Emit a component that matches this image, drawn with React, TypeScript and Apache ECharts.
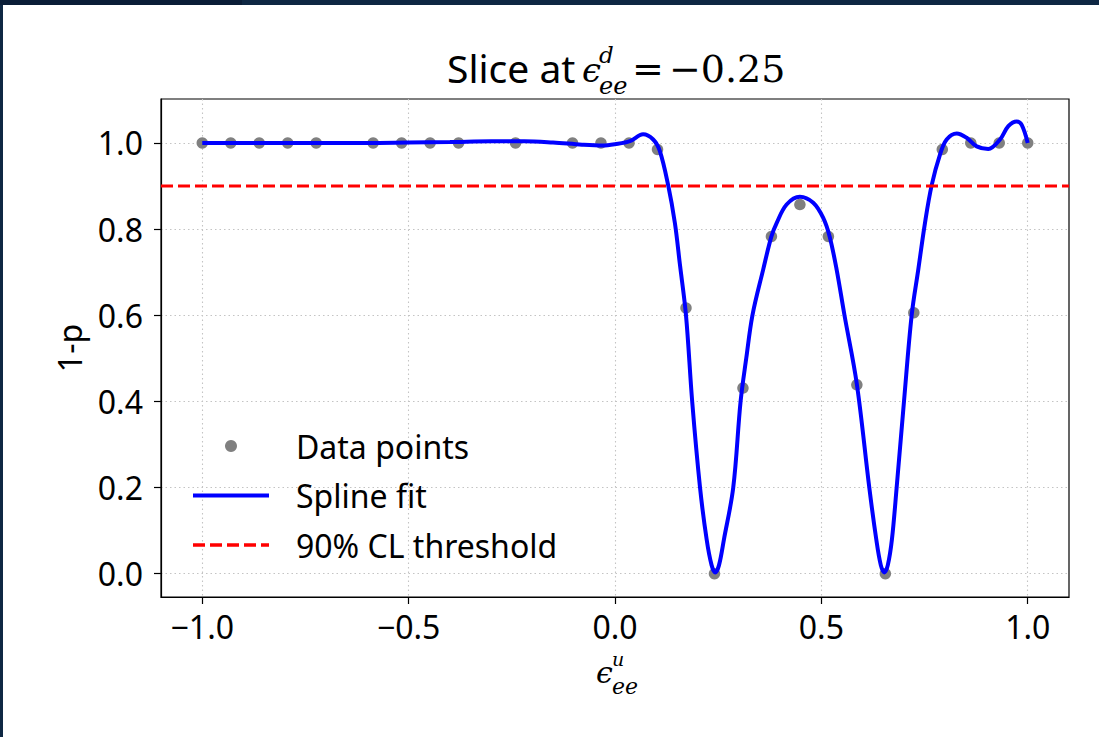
import React, { useEffect, useRef } from "react";
import * as echarts from "echarts";

// ---- data ----
const X_TICKS = [-1.0, -0.5, 0.0, 0.5, 1.0];
const Y_TICKS = [0.0, 0.2, 0.4, 0.6, 0.8, 1.0];
const X_RANGE = [-1.1, 1.1];
const Y_RANGE = [-0.054, 1.102];
const THRESHOLD = 0.9;

const POINT_X = [
  -1.0, -0.931, -0.862, -0.793, -0.724, -0.586, -0.517, -0.448, -0.379, -0.241,
  -0.103, -0.034, 0.034, 0.103, 0.172, 0.241, 0.31, 0.379, 0.448, 0.517, 0.586,
  0.655, 0.724, 0.793, 0.862, 0.931, 1.0,
];
const POINT_Y = [
  1.0, 1.0, 1.0, 1.0, 1.0, 1.0, 1.0, 1.0, 1.0, 1.0,
  1.0, 1.0, 1.0, 0.985, 0.617, 0.0, 0.431, 0.783, 0.857, 0.783, 0.4385,
  0.0, 0.606, 0.985, 1.0, 1.0, 1.0,
];

const SPLINE_X = [
  -1.0, -0.9, -0.8, -0.7, -0.6, -0.5, -0.4, -0.3, -0.22, -0.15, -0.08, -0.03, 0.0,
  0.036, 0.068, 0.0925, 0.1087, 0.1288, 0.1451, 0.157, 0.172, 0.187, 0.206, 0.222,
  0.234, 0.243, 0.252, 0.264, 0.2865, 0.3043, 0.318, 0.333, 0.359, 0.379, 0.3916,
  0.4158, 0.448, 0.4803, 0.5045, 0.52, 0.537, 0.556, 0.586, 0.6161, 0.633, 0.644,
  0.6525, 0.661, 0.671, 0.6824, 0.7002, 0.7188, 0.7348, 0.751, 0.7673, 0.7874,
  0.8036, 0.828, 0.852, 0.8763, 0.9045, 0.9329, 0.953, 0.9733, 0.9854, 1.0,
];
const SPLINE_Y = [
  1.0, 1.0, 1.0, 1.0, 1.0, 1.001, 1.002, 1.004, 1.004, 1.001, 0.996, 0.994, 0.997,
  1.004, 1.02, 1.008, 0.981, 0.902, 0.814, 0.72, 0.6, 0.4, 0.2, 0.08,
  0.02, 0.003, 0.02, 0.08, 0.2, 0.4, 0.5, 0.6, 0.706, 0.783, 0.814,
  0.857, 0.875, 0.861, 0.826, 0.783, 0.706, 0.6, 0.44, 0.2, 0.08, 0.02,
  0.003, 0.02, 0.08, 0.2, 0.4, 0.6, 0.706, 0.814, 0.902, 0.973,
  1.008, 1.022, 1.012, 0.992, 0.986, 1.008, 1.039, 1.05, 1.042, 1.0,
];

const SANS = "'Noto Sans', 'DejaVu Sans', sans-serif";
const SERIF = "'DejaVu Serif', 'Liberation Serif', serif";
const fmt = (v: number) => v.toFixed(1).replace("-", "\u2212");

export default function App() {
  const ref = useRef<HTMLDivElement>(null);

  useEffect(() => {
    if (!ref.current) return;
    const chart = echarts.init(ref.current, undefined, { renderer: "svg" });

    const gridStyle = { color: "#c4c4c4", width: 1.1, type: [1.5, 3] as any };
    const tickStyle = { color: "#000", width: 1.2 };
    const t = (text: string, x: number, y: number, font: string) => ({
      type: "text",
      x,
      y,
      style: { text, font, fill: "#000", verticalAlign: "middle" },
    });

    chart.setOption({
      animation: false,
      backgroundColor: "transparent",
      grid: {
        left: 161,
        top: 99,
        width: 908,
        height: 498,
        show: true,
        borderColor: "#000",
        borderWidth: 1.2,
        backgroundColor: "#fff",
        containLabel: false,
      },
      xAxis: {
        type: "value",
        min: X_RANGE[0],
        max: X_RANGE[1],
        axisLine: { show: true, onZero: false, lineStyle: tickStyle },
        axisTick: { show: true, length: 7, lineStyle: tickStyle, customValues: X_TICKS },
        axisLabel: {
          customValues: X_TICKS,
          formatter: fmt,
          margin: 13,
          fontSize: 32,
          fontFamily: SANS,
          color: "#000",
        },
        splitLine: { show: true, lineStyle: gridStyle },
      },
      yAxis: {
        type: "value",
        min: Y_RANGE[0],
        max: Y_RANGE[1],
        name: "1-p",
        nameLocation: "middle",
        nameGap: 76,
        nameTextStyle: { fontSize: 32, fontFamily: SANS, color: "#000" },
        axisLine: { show: true, onZero: false, lineStyle: tickStyle },
        axisTick: { show: true, length: 7, lineStyle: tickStyle, customValues: Y_TICKS },
        axisLabel: {
          customValues: Y_TICKS,
          formatter: fmt,
          margin: 18,
          fontSize: 32,
          fontFamily: SANS,
          color: "#000",
        },
        splitLine: { show: true, lineStyle: gridStyle },
      },
      legend: {
        orient: "vertical",
        left: 191,
        top: 430,
        padding: 0,
        itemWidth: 76,
        itemHeight: 12,
        itemGap: 17.5,
        textStyle: {
          fontSize: 32,
          fontFamily: SANS,
          color: "#000",
          padding: [0, 0, 0, 22],
        },
        data: [
          { name: "Data points", icon: "circle", itemStyle: { color: "#808080", opacity: 1 } },
          {
            name: "Spline fit",
            itemStyle: { opacity: 0 },
            lineStyle: { width: 4, color: "#0000ff" },
          },
          {
            name: "90% CL threshold",
            itemStyle: { opacity: 0 },
            lineStyle: { width: 3.3, color: "#ff0000", type: [12, 5] },
          },
        ],
      },
      series: [
        {
          name: "Data points",
          type: "scatter",
          data: POINT_X.map((x, i) => [x, POINT_Y[i]]),
          symbolSize: 11.5,
          itemStyle: { color: "#808080", opacity: 1 },
          z: 2,
        },
        {
          name: "Spline fit",
          type: "line",
          data: SPLINE_X.map((x, i) => [x, SPLINE_Y[i]]),
          smooth: 0.35,
          symbol: "none",
          lineStyle: { color: "#0000ff", width: 4 },
          itemStyle: { color: "#0000ff" },
          z: 3,
        },
        {
          name: "90% CL threshold",
          type: "line",
          data: [
            [X_RANGE[0], THRESHOLD],
            [X_RANGE[1], THRESHOLD],
          ],
          symbol: "none",
          lineStyle: { color: "#ff0000", width: 3, type: [12, 5] },
          itemStyle: { color: "#ff0000" },
          z: 4,
        },
      ],
      graphic: [
        // title: Slice at ϵ^d_ee = −0.25
        t("Slice at", 447, 67, `39px ${SANS}`),
        t("\u03F5", 582, 70, `italic 34px ${SERIF}`),
        t("d", 599, 55, `italic 23px ${SERIF}`),
        t("ee", 599, 86, `italic 24px ${SERIF}`),
        t("=", 632, 69, `38px ${SERIF}`),
        t("\u22120.25", 669, 69, `38px ${SERIF}`),
        // x-axis label: ϵ^u_ee
        t("\u03F5", 596, 672, `italic 30px ${SERIF}`),
        t("u", 612, 659, `italic 19px ${SERIF}`),
        t("ee", 612, 686, `italic 22px ${SERIF}`),
      ],
    });

    return () => chart.dispose();
  }, []);

  return (
    <div style={{ position: "fixed", left: 0, top: 0, width: 1099, height: 737, background: "#0e2743", overflow: "hidden" }}>
      <div style={{ position: "absolute", left: 0, top: 0, width: 242, height: 5, background: "#0a1d37" }} />
      <div style={{ position: "absolute", left: 3, top: 5, right: 0, bottom: 0, background: "#ffffff" }} />
      <div ref={ref} style={{ position: "absolute", left: 0, top: 0, width: 1099, height: 737 }} />
    </div>
  );
}
